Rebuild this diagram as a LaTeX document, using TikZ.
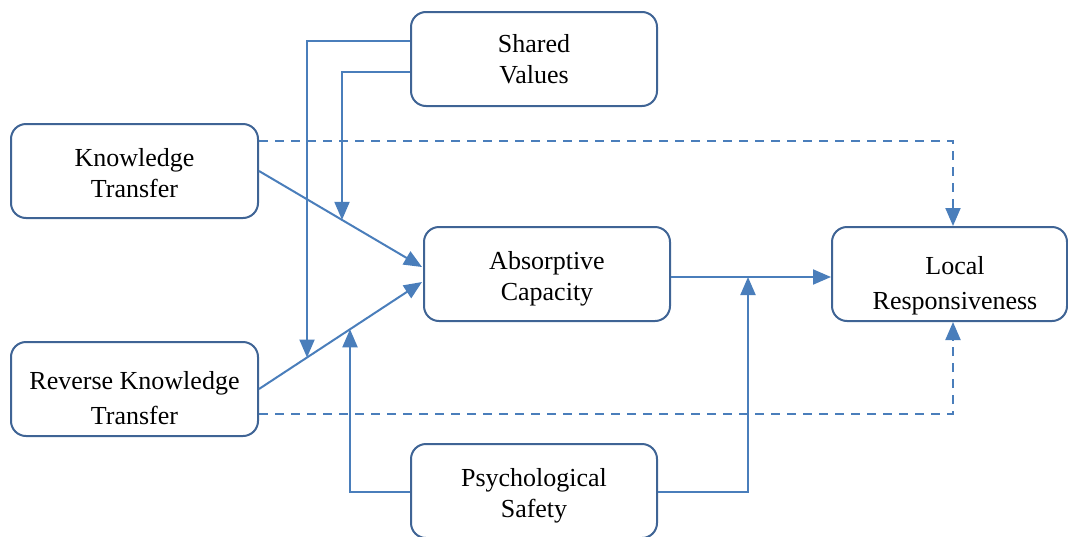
\documentclass[tikz,border=0pt]{standalone}
\usepackage{fontspec}
\setmainfont{Liberation Serif}
\usetikzlibrary{arrows.meta}
\definecolor{boxc}{HTML}{3F6495}
\definecolor{linec}{HTML}{4A7EBB}
\tikzset{
  box/.style={draw=boxc, line width=2pt, rounded corners=15pt, fill=white,
    minimum width=246pt, minimum height=94pt, inner sep=0pt},
  txt/.style={align=center, inner sep=0pt, font=\fontsize{26}{31}\selectfont},
  conn/.style={draw=linec, line width=2pt, -{Triangle[length=18pt,width=15pt]}},
  dconn/.style={conn, dash pattern=on 9pt off 7pt},
}
\begin{document}
\begin{tikzpicture}[x=1pt,y=-1pt]
\useasboundingbox (0,0) rectangle (1068,536);
\node[box] (sv) at (534,59) {};
\node[txt] (svt) at (534,59) {Shared\\Values};
\node[box, minimum width=247pt] (kt) at (134.5,171) {};
\node[txt] (ktt) at (134.5,173) {Knowledge\\Transfer};
\node[box] (ac) at (547,274) {};
\node[txt] (act) at (547,279) {Absorptive\\Capacity};
\node[box, minimum width=235pt] (lr) at (949.5,274) {};
\node[txt] (lrt) at (955,286) {Local\\[4pt]Responsiveness};
\node[box, minimum width=247pt] (rkt) at (134.5,389) {};
\node[txt] (rktt) at (134.5,398) {Reverse Knowledge\\[4pt]Transfer};
\node[box] (ps) at (534,491) {};
\node[txt] (pst) at (534,496) {Psychological\\Safety};
% connector endpoints
\coordinate (ktE) at (kt.east);
\coordinate (acW1) at (422,267);
\coordinate (rktE) at (rkt.east);
\coordinate (acW2) at (422,282);
\draw[conn] (ktE) -- (acW1);
\draw[conn] (rktE) -- (acW2);
\coordinate (p1) at (intersection of ktE--acW1 and 342,0--342,600);
\coordinate (p2) at (intersection of rktE--acW2 and 307,0--307,600);
\coordinate (p3) at (intersection of rktE--acW2 and 350,0--350,600);
\draw[conn] (sv.west |- 0,41) -| (p2);
\draw[conn] (sv.west |- 0,72) -| (p1);
\draw[conn] (ps.west |- 0,492) -| (p3);
\draw[conn] (ac.east |- 0,277) -- (lr.west |- 0,277);
\coordinate (q) at (748,277);
\draw[conn] (ps.east |- 0,492) -| (q);
\draw[dconn] (kt.east |- 0,141) -| (lr.north -| 953,0);
\draw[dconn] (rkt.east |- 0,414) -| (lr.south -| 953,0);
\end{tikzpicture}
\end{document}
